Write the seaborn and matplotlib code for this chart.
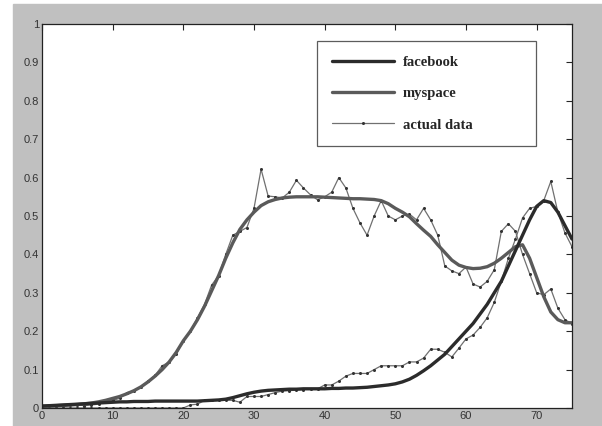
import matplotlib
matplotlib.use("Agg")
import matplotlib.pyplot as plt
import seaborn as sns
from matplotlib.lines import Line2D
from matplotlib.patches import Rectangle

# 月份 0..75
months = list(range(76))

# 拟合曲线
facebook_fit = [
    0.005, 0.006, 0.007, 0.008, 0.009, 0.010, 0.011, 0.012, 0.013, 0.014,
    0.015, 0.016, 0.016, 0.017, 0.017, 0.017, 0.018, 0.018, 0.018, 0.018,
    0.018, 0.018, 0.018, 0.019, 0.020, 0.021, 0.023, 0.027, 0.032, 0.037,
    0.041, 0.044, 0.046, 0.047, 0.048, 0.049, 0.049, 0.050, 0.050, 0.050,
    0.050, 0.051, 0.051, 0.052, 0.052, 0.053, 0.054, 0.056, 0.058, 0.060,
    0.063, 0.068, 0.075, 0.085, 0.097, 0.110, 0.125, 0.140, 0.160, 0.180,
    0.200, 0.220, 0.245, 0.270, 0.300, 0.330, 0.370, 0.410, 0.450, 0.490,
    0.525, 0.540, 0.535, 0.510, 0.475, 0.440,
]
myspace_fit = [
    0.005, 0.005, 0.006, 0.007, 0.008, 0.009, 0.011, 0.013, 0.016, 0.020,
    0.025, 0.030, 0.037, 0.045, 0.055, 0.068, 0.083, 0.100, 0.120, 0.145,
    0.175, 0.200, 0.230, 0.265, 0.305, 0.345, 0.390, 0.430, 0.465, 0.490,
    0.510, 0.527, 0.537, 0.543, 0.547, 0.549, 0.550, 0.550, 0.550, 0.550,
    0.549, 0.548, 0.547, 0.546, 0.545, 0.545, 0.544, 0.543, 0.540, 0.532,
    0.520, 0.510, 0.498, 0.480, 0.463, 0.447, 0.425, 0.405, 0.385, 0.372,
    0.366, 0.363, 0.364, 0.368, 0.377, 0.390, 0.405, 0.420, 0.425, 0.390,
    0.340, 0.290, 0.250, 0.230, 0.222, 0.222,
]

# 实际数据
facebook_actual = [
    0.0, 0.0, 0.0, 0.0, 0.0, 0.0, 0.0, 0.0, 0.0, 0.0,
    0.0, 0.0, 0.0, 0.0, 0.0, 0.0, 0.0, 0.0, 0.0, 0.0,
    0.0, 0.008, 0.010, 0.020, 0.020, 0.020, 0.020, 0.020, 0.015, 0.030,
    0.030, 0.030, 0.035, 0.040, 0.044, 0.045, 0.047, 0.048, 0.050, 0.050,
    0.060, 0.060, 0.070, 0.083, 0.090, 0.090, 0.090, 0.100, 0.110, 0.110,
    0.110, 0.110, 0.120, 0.120, 0.130, 0.153, 0.153, 0.145, 0.133, 0.156,
    0.180, 0.190, 0.210, 0.235, 0.275, 0.330, 0.390, 0.440, 0.495, 0.520,
    0.525, 0.540, 0.590, 0.510, 0.456, 0.420,
]
myspace_actual = [
    0.005, 0.008, 0.006, 0.004, 0.007, 0.008, 0.006, 0.008, 0.010, 0.016,
    0.020, 0.025, 0.040, 0.045, 0.055, 0.070, 0.085, 0.110, 0.120, 0.140,
    0.175, 0.200, 0.235, 0.270, 0.320, 0.345, 0.400, 0.450, 0.460, 0.470,
    0.520, 0.622, 0.552, 0.550, 0.547, 0.562, 0.593, 0.573, 0.555, 0.542,
    0.550, 0.562, 0.600, 0.573, 0.520, 0.482, 0.450, 0.500, 0.540, 0.500,
    0.490, 0.500, 0.505, 0.490, 0.520, 0.490, 0.450, 0.370, 0.357, 0.350,
    0.367, 0.323, 0.315, 0.330, 0.360, 0.460, 0.480, 0.460, 0.400, 0.350,
    0.300, 0.295, 0.310, 0.260, 0.230, 0.220,
]

x_ticks = list(range(0, 71, 10))
y_ticks = [i / 10 for i in range(11)]
y_labels = ["0", "0.1", "0.2", "0.3", "0.4", "0.5", "0.6", "0.7", "0.8", "0.9", "1"]

sns.set_style("white")
plt.rcParams["font.family"] = ["Liberation Sans", "DejaVu Sans"]

fig = plt.figure(figsize=(6.02, 4.26), dpi=100, facecolor="white")
# 灰色背景（MATLAB 风格）
bg = Rectangle((13 / 602, 0), 589 / 602, 422 / 426,
               transform=fig.transFigure, color="#c0c0c0", zorder=-10)
fig.patches.append(bg)
ax = fig.add_axes([42 / 602, 18 / 426, 530 / 602, 384 / 426])
ax.set_zorder(5)
ax.set_facecolor("white")

fb_color = "#2b2b2b"
ms_color = "#5a5a5a"
act_color = "#707070"

sns.lineplot(x=months, y=facebook_actual, ax=ax, color=act_color, linewidth=0.9,
             marker="o", markersize=2.2, markeredgewidth=0, markerfacecolor="#333333")
sns.lineplot(x=months, y=myspace_actual, ax=ax, color=act_color, linewidth=0.9,
             marker="o", markersize=2.2, markeredgewidth=0, markerfacecolor="#333333")
sns.lineplot(x=months, y=myspace_fit, ax=ax, color=ms_color, linewidth=2.4)
sns.lineplot(x=months, y=facebook_fit, ax=ax, color=fb_color, linewidth=2.4)

ax.set_xlim(0, 75)
ax.set_ylim(0, 1)
ax.set_xticks(x_ticks)
ax.set_yticks(y_ticks)
ax.set_yticklabels(y_labels)
ax.tick_params(direction="in", length=4, width=0.8, top=True, right=True,
               labelsize=8, labelcolor="#333333", pad=2)
for s in ax.spines.values():
    s.set_color("#222222")
    s.set_linewidth(0.9)

handles = [
    Line2D([], [], color=fb_color, linewidth=2.4),
    Line2D([], [], color=ms_color, linewidth=2.4),
    Line2D([], [], color=act_color, linewidth=0.9, marker="o", markersize=2.2,
           markeredgewidth=0, markerfacecolor="#333333", markevery=[1]),
]
# 图例框放宽到参考图的宽度
leg = ax.legend(handles, ["facebook", "myspace", "actual data"],
                loc="upper left", bbox_to_anchor=(0.519, 0.956, 0.413, 0.0),
                mode="expand",
                prop={"family": "Liberation Serif", "weight": "bold", "size": 10.5},
                handlelength=4.3, labelspacing=1.25, borderpad=1.0,
                handletextpad=0.6, fancybox=False, frameon=True,
                borderaxespad=0)
leg.get_frame().set_edgecolor("#333333")
leg.get_frame().set_linewidth(0.9)

fig.savefig("out.png", dpi=100, facecolor=fig.get_facecolor())
